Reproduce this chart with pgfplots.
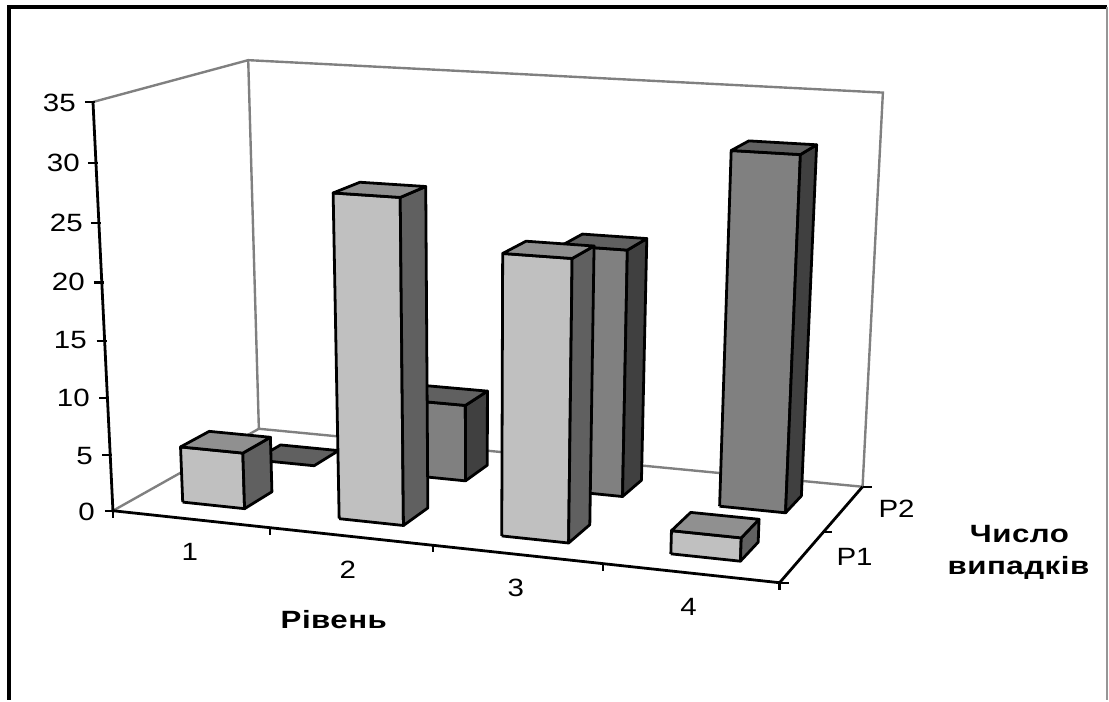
\documentclass[border=0pt]{standalone}
\usepackage{fontspec}
\setmainfont[FakeStretch=1.18]{Liberation Sans}
\newfontface\titlefont[FakeStretch=1.25,LetterSpace=2]{Liberation Sans Bold}
\usepackage{pgfplots}
\usepackage{pgfplotstable}
\pgfplotsset{compat=1.18}

% number of cases: one table per series
\pgfplotstableread{
cat value
1 0
2 7
3 22
4 31
}\seriesPtwo
\pgfplotstableread{
cat value
1 5
2 28
3 24
4 2
}\seriesPone

% unit faces of a column, a: along categories, b: along series, h: height
\pgfplotstableread{
a b h
0 0 0
1 0 0
1 0 1
0 0 1
0 0 0
}\faceFront
\pgfplotstableread{
a b h
0 0 1
1 0 1
1 1 1
0 1 1
0 0 1
}\faceTop
\pgfplotstableread{
a b h
1 0 0
1 1 0
1 1 1
1 0 1
1 0 0
}\faceSide

\pgfplotsset{
  /pgfplots/table/proj/.style={
    /pgfplots/table/x expr={px(\thisrow{c},\thisrow{d},\thisrow{v})+\thisrow{dx}},
    /pgfplots/table/y expr={py(\thisrow{c},\thisrow{d},\thisrow{v})+\thisrow{dy}},
    /pgfplots/table/row sep=\\},
  wall/.style={draw={rgb,255:red,128;green,128;blue,128},line width=2.4pt},
  axisline/.style={draw=black,line width=2.8pt},
  tickline/.style={draw=black,line width=2.2pt},
  face/.style={draw=black,line width=2.8pt,line join=round},
}

% one series: #1 table, #2 front edge in depth, #3 front, #4 top, #5 side colour
\newcommand{\columns}[5]{%
  \pgfplotsinvokeforeach{0,1,2,3}{%
    \pgfplotstablegetelem{##1}{value}\of#1
    \edef\val{\pgfplotsretval}%
    \pgfmathsetmacro\cl{##1+0.3}%
    \ifdim\val pt>0pt
      \addplot[face,fill=#3] table[x expr={px(\cl+0.4*\thisrow{a},#2+0.38*\thisrow{b},\val*\thisrow{h})},y expr={py(\cl+0.4*\thisrow{a},#2+0.38*\thisrow{b},\val*\thisrow{h})}] {\faceFront};
      \addplot[face,fill=#5] table[x expr={px(\cl+0.4*\thisrow{a},#2+0.38*\thisrow{b},\val*\thisrow{h})},y expr={py(\cl+0.4*\thisrow{a},#2+0.38*\thisrow{b},\val*\thisrow{h})}] {\faceSide};
    \fi
    \addplot[face,fill=#4] table[x expr={px(\cl+0.4*\thisrow{a},#2+0.38*\thisrow{b},\val*\thisrow{h})},y expr={py(\cl+0.4*\thisrow{a},#2+0.38*\thisrow{b},\val*\thisrow{h})}] {\faceTop};
  }%
}

\definecolor{pOneFront}{RGB}{192,192,192}
\definecolor{pOneTop}{RGB}{144,144,144}
\definecolor{pOneSide}{RGB}{96,96,96}
\definecolor{pTwoFront}{RGB}{128,128,128}
\definecolor{pTwoTop}{RGB}{96,96,96}
\definecolor{pTwoSide}{RGB}{64,64,64}

\begin{document}
\begin{tikzpicture}[
  ticklab/.style={font=\fontsize{25bp}{30bp}\selectfont,inner sep=0pt},
  axtitle/.style={font=\fontsize{25bp}{30bp}\titlefont,inner sep=0pt},
  declare function={
    wd(\x,\y,\z)=1-0.07647*\x/4+0.11481*\y/2-0.052*\z/35;
    px(\x,\y,\z)=(113+607.35*\x/4+175.74*\y/2-24.8*\z/35)/wd(\x,\y,\z);
    py(\x,\y,\z)=(511+27.42*\x/4-32.75*\y/2-414.3*\z/35)/wd(\x,\y,\z);
  }]
\begin{axis}[
  scale only axis,
  width=1109bp,height=700bp,
  xmin=0,xmax=1109,ymin=0,ymax=700,
  y dir=reverse,
  axis lines=none,
  clip=false,
]
% outer frame
\addplot[draw=none,fill=white] coordinates {(0,0) (1109,0) (1109,700) (0,700) (0,0)};
\addplot[draw=black,line width=3.2pt] coordinates {(9,700) (9,7) (1108,7)};
\addplot[draw={rgb,255:red,150;green,150;blue,150},line width=2pt] coordinates {(1108,7) (1108,700)};

% walls and floor
\addplot[wall] table[proj] {c d v dx dy\\ 0 0 35 0 0\\ 0 2 35 0 0\\ 4 2 35 0 0\\ 4 2 0 0 0\\ 0 2 0 0 0\\ 0 0 0 0 0\\};
\addplot[wall] table[proj] {c d v dx dy\\ 0 2 35 0 0\\ 0 2 0 0 0\\};

% axes
\addplot[axisline] table[proj] {c d v dx dy\\ 0 0 35 0 0\\ 0 0 0 0 0\\ 4 0 0 0 0\\ 4 2 0 0 0\\};
\pgfplotsinvokeforeach{0,5,...,35}{
  \addplot[tickline] table[proj] {c d v dx dy\\ 0 0 #1 -8 0\\ 0 0 #1 2 0\\};
}
\pgfplotsinvokeforeach{0,1,2,3,4}{
  \addplot[tickline] table[proj] {c d v dx dy\\ #1 0 0 0 0\\ #1 0 0 0 7\\};
}
\pgfplotsinvokeforeach{0,1,2}{
  \addplot[tickline] table[proj] {c d v dx dy\\ 4 #1 0 0 0\\ 4 #1 0 9 0\\};
}

% columns, back series first
\columns{\seriesPtwo}{1.3}{pTwoFront}{pTwoTop}{pTwoSide}
\columns{\seriesPone}{0.3}{pOneFront}{pOneTop}{pOneSide}

% tick labels
\node[ticklab,anchor=east] at (axis cs:76,103) {35};
\node[ticklab,anchor=east] at (axis cs:80,163) {30};
\node[ticklab,anchor=east] at (axis cs:83,223) {25};
\node[ticklab,anchor=east] at (axis cs:85,282) {20};
\node[ticklab,anchor=east] at (axis cs:87,340) {15};
\node[ticklab,anchor=east] at (axis cs:90,398) {10};
\node[ticklab,anchor=east] at (axis cs:93,456) {5};
\node[ticklab,anchor=east] at (axis cs:95,512) {0};
\node[ticklab] at (axis cs:190,552) {1};
\node[ticklab] at (axis cs:348,570) {2};
\node[ticklab] at (axis cs:516,588) {3};
\node[ticklab] at (axis cs:689,607) {4};
\node[ticklab] at (axis cs:855,557) {P1};
\node[ticklab] at (axis cs:897,509) {P2};
% axis titles
\node[axtitle] at (axis cs:334,620) {Рівень};
\node[axtitle] at (axis cs:1020,534) {Число};
\node[axtitle] at (axis cs:1019,568) {випадків};
\end{axis}
\end{tikzpicture}
\end{document}
